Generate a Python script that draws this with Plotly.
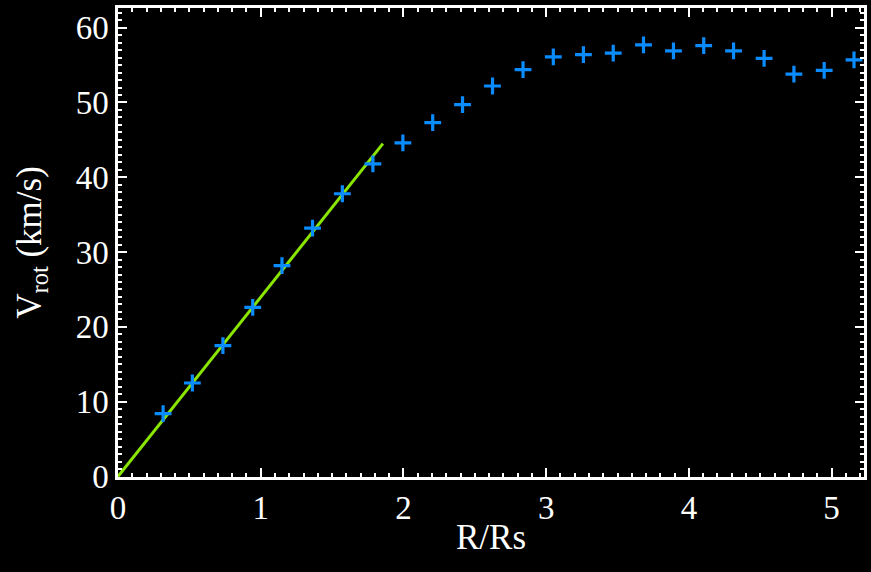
import plotly.graph_objects as go

# Rotation curve: normalised radius vs rotation velocity
r_rs = [0.316, 0.521, 0.735, 0.944, 1.149, 1.363, 1.572, 1.786, 1.996, 2.205,
        2.414, 2.624, 2.838, 3.050, 3.261, 3.470, 3.682, 3.892, 4.104, 4.313,
        4.527, 4.736, 4.948, 5.157]
v_rot = [8.4, 12.5, 17.5, 22.6, 28.2, 33.2, 37.8, 41.8, 44.6, 47.3,
         49.7, 52.2, 54.4, 56.1, 56.4, 56.6, 57.7, 56.9, 57.6, 56.9,
         55.9, 53.8, 54.3, 55.7]

# Solid-body fit through the inner points
fit_r = [0.0, 1.856]
fit_v = [0.0, 44.5]

FONT = "Liberation Serif, Times New Roman, serif"

fig = go.Figure()
fig.add_trace(go.Scatter(
    x=fit_r, y=fit_v, mode="lines",
    line=dict(color="#8ae600", width=3),
))
fig.add_trace(go.Scatter(
    x=r_rs, y=v_rot, mode="markers",
    marker=dict(symbol="cross-thin", size=12,
                line=dict(color="#0a8cff", width=3.2)),
))

fig.update_xaxes(
    range=[0, 5.227], tickmode="linear", tick0=0, dtick=1,
    ticks="inside", ticklen=9, tickwidth=2, tickcolor="white",
    minor=dict(dtick=0.1, ticks="inside", ticklen=4, tickwidth=2, tickcolor="white"),
    showline=True, linecolor="white", linewidth=2.5, mirror="ticks",
    showgrid=False, zeroline=False, layer="above traces",
    tickfont=dict(family=FONT, size=33, color="white"),
    title=dict(text="R/Rs", font=dict(family=FONT, size=35, color="white"), standoff=0),
)
fig.update_yaxes(
    range=[-0.07, 62.63], tickmode="linear", tick0=0, dtick=10,
    ticks="inside", ticklen=9, tickwidth=2, tickcolor="white",
    minor=dict(dtick=1, ticks="inside", ticklen=4, tickwidth=2, tickcolor="white"),
    showline=True, linecolor="white", linewidth=2.5, mirror="ticks",
    showgrid=False, zeroline=False, layer="above traces",
    tickfont=dict(family=FONT, size=33, color="white"),
    title=dict(text="V<sub>rot</sub> (km/s)", font=dict(family=FONT, size=35, color="white"), standoff=24),
)

fig.update_layout(
    width=871, height=572,
    margin=dict(l=118, r=4, t=8, b=95),
    paper_bgcolor="black", plot_bgcolor="black",
    showlegend=False,
)

fig.write_html("out.html")
